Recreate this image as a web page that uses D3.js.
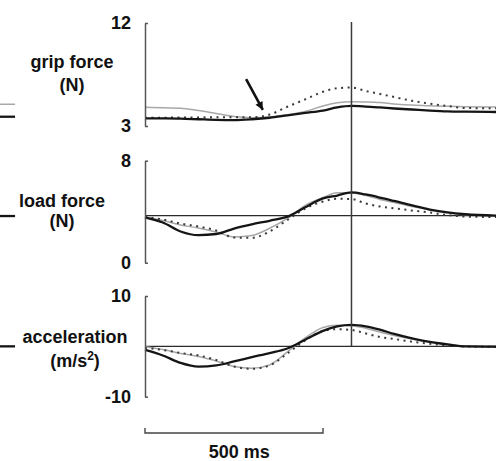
<!DOCTYPE html>
<html>
<head>
<meta charset="utf-8">
<script src="https://cdn.jsdelivr.net/npm/d3@7"></script>
<style>
  html, body { margin: 0; padding: 0; background: #fff; }
  svg { display: block; }
  text { font-family: "Liberation Sans", Arial, sans-serif; font-weight: bold; fill: #111; }
</style>
</head>
<body>
<div id="chart"></div>
<script>
// time samples (ms from start of the trace)
const times = [0, 50, 100, 150, 200, 250, 300, 350, 400, 450, 500, 540, 580, 620, 660, 700, 750, 800, 850, 900, 1000];

// grip force (N)
const gripBlack  = [3.67, 3.66, 3.64, 3.59, 3.54, 3.52, 3.59, 3.72, 3.93, 4.14, 4.35, 4.62, 4.75, 4.70, 4.62, 4.53, 4.44, 4.35, 4.28, 4.25, 4.22];
const gripGray   = [4.63, 4.59, 4.56, 4.35, 4.09, 3.83, 3.73, 3.79, 3.98, 4.27, 4.75, 5.03, 5.12, 5.10, 5.05, 4.92, 4.83, 4.77, 4.72, 4.69, 4.66];
const gripDotted = [3.73, 3.73, 3.74, 3.75, 3.76, 3.76, 3.76, 4.00, 4.68, 5.33, 5.99, 6.30, 6.36, 6.06, 5.80, 5.53, 5.20, 4.95, 4.75, 4.57, 4.55];

// load force (N)
const loadBlack  = [3.56, 3.15, 2.45, 2.16, 2.25, 2.68, 3.01, 3.29, 3.61, 4.35, 5.04, 5.27, 5.52, 5.35, 5.11, 4.84, 4.49, 4.17, 3.94, 3.80, 3.69];
const loadGray   = [3.61, 3.31, 2.96, 2.72, 2.41, 2.02, 2.13, 2.70, 3.48, 4.49, 5.11, 5.48, 5.47, 5.27, 4.96, 4.72, 4.41, 4.15, 3.91, 3.76, 3.66];
const loadDotted = [3.58, 3.39, 3.07, 2.84, 2.53, 1.98, 1.95, 2.45, 3.35, 4.25, 4.80, 5.01, 5.00, 4.64, 4.41, 4.27, 4.09, 3.94, 3.74, 3.62, 3.58];
const loadRef = 3.7;

// acceleration (m/s2)
const accBlack  = [-0.71, -1.81, -3.30, -4.03, -3.79, -3.00, -2.15, -1.33, -0.42, 1.31, 3.06, 3.95, 4.25, 3.95, 3.30, 2.46, 1.57, 0.87, 0.38, -0.02, -0.06];
const accGray   = [-0.06, -0.62, -1.41, -2.01, -2.90, -3.99, -4.35, -3.69, -1.11, 1.67, 3.75, 4.19, 4.11, 3.61, 2.86, 2.16, 1.47, 0.87, 0.32, 0.02, -0.12];
const accDotted = [-0.32, -0.71, -1.31, -1.81, -2.70, -3.99, -4.45, -3.79, -1.41, 1.17, 3.06, 3.40, 3.26, 2.56, 1.87, 1.47, 0.93, 0.52, 0.18, -0.02, -0.12];
const accRef = 0;

// axis end ticks
const gripTicks = [3, 12];
const loadTicks = [0, 8];
const accTicks = [-10, 10];

// event marker time and scale bar
const eventTime = 580;
const scaleBar = [0, 500];

// arrow annotation on the grip panel: [time, value] tail -> tip
const arrowPts = [[284, 7.1], [331, 4.4]];

// cut-off traces of the neighbouring panel on the left edge
const edgeTimes = [-410, -365];
const edgeGripGray = [4.9, 4.9];
const edgeGripBlack = [3.81, 3.81];
const edgeLoadBlack = [3.66, 3.66];
const edgeAccBlack = [0, 0];

const W = 496, H = 461;
const svg = d3.select("#chart").append("svg").attr("width", W).attr("height", H);

const x = d3.scaleLinear().domain([0, 1000]).range([145, 501]);
const yGrip = d3.scaleLinear().domain([3, 12]).range([126, 23]);
const yLoad = d3.scaleLinear().domain([0, 8]).range([262.7, 160.7]);
const yAcc = d3.scaleLinear().domain([-10, 10]).range([396.7, 296]);

const styles = {
  gray:   { stroke: "#a8a8a8", width: 1.5, dash: null },
  dotted: { stroke: "#3a3a3a", width: 2, dash: "2,4.5" },
  black:  { stroke: "#151515", width: 2.3, dash: null }
};

function drawTrace(g, ts, vals, y, style) {
  const line = d3.line().x((d, i) => x(ts[i])).y(d => y(d)).curve(d3.curveMonotoneX);
  g.append("path").datum(vals)
    .attr("d", line)
    .attr("fill", "none")
    .attr("stroke", style.stroke)
    .attr("stroke-width", style.width)
    .attr("stroke-dasharray", style.dash)
    .attr("stroke-linejoin", "round");
}

function drawAxis(y, ticks) {
  const ax = svg.append("g").attr("transform", `translate(${x(0)},0)`)
    .call(d3.axisLeft(y).tickValues(ticks).tickFormat(d => String(d))
      .tickSizeInner(-3).tickSizeOuter(0).tickPadding(14));
  ax.select(".domain").attr("stroke", "#555").attr("stroke-width", 1.5);
  ax.selectAll(".tick line").attr("stroke", "#555").attr("stroke-width", 1.5);
  ax.selectAll(".tick text").attr("font-size", 18).attr("font-family", null).attr("fill", "#111");
  ax.attr("font-family", null);
}

function refLine(y, v) {
  svg.append("line")
    .attr("x1", x(0)).attr("x2", W)
    .attr("y1", y(v)).attr("y2", y(v))
    .attr("stroke", "#2a2a2a").attr("stroke-width", 1.3);
}

// grip panel
const gGrip = svg.append("g");
drawTrace(gGrip, times, gripGray, yGrip, styles.gray);
drawTrace(gGrip, times, gripDotted, yGrip, styles.dotted);
drawTrace(gGrip, times, gripBlack, yGrip, styles.black);
drawAxis(yGrip, gripTicks);

// load panel
refLine(yLoad, loadRef);
const gLoad = svg.append("g");
drawTrace(gLoad, times, loadGray, yLoad, styles.gray);
drawTrace(gLoad, times, loadDotted, yLoad, styles.dotted);
drawTrace(gLoad, times, loadBlack, yLoad, styles.black);
drawAxis(yLoad, loadTicks);

// acceleration panel
refLine(yAcc, accRef);
const gAcc = svg.append("g");
drawTrace(gAcc, times, accGray, yAcc, styles.gray);
drawTrace(gAcc, times, accDotted, yAcc, styles.dotted);
drawTrace(gAcc, times, accBlack, yAcc, styles.black);
drawAxis(yAcc, accTicks);

// edge fragments
drawTrace(svg, edgeTimes, edgeGripGray, yGrip, styles.gray);
drawTrace(svg, edgeTimes, edgeGripBlack, yGrip, styles.black);
drawTrace(svg, edgeTimes, edgeLoadBlack, yLoad, styles.black);
drawTrace(svg, edgeTimes, edgeAccBlack, yAcc, styles.black);

// vertical event line
svg.append("line")
  .attr("x1", x(eventTime)).attr("x2", x(eventTime))
  .attr("y1", yGrip(12) - 1).attr("y2", yAcc(0))
  .attr("stroke", "#3a3a3a").attr("stroke-width", 1.5);

// arrow
svg.append("defs").append("marker")
  .attr("id", "arrowhead").attr("viewBox", "0 -5 10 10")
  .attr("refX", 10).attr("refY", 0)
  .attr("markerUnits", "userSpaceOnUse")
  .attr("markerWidth", 9).attr("markerHeight", 8).attr("orient", "auto")
  .append("path").attr("d", "M0,-5L10,0L0,5Z").attr("fill", "#111");
svg.append("line")
  .attr("x1", x(arrowPts[0][0])).attr("y1", yGrip(arrowPts[0][1]))
  .attr("x2", x(arrowPts[1][0])).attr("y2", yGrip(arrowPts[1][1]))
  .attr("stroke", "#111").attr("stroke-width", 2.6)
  .attr("marker-end", "url(#arrowhead)");

// panel labels
const labels = [
  { lines: ["grip force", "(N)"], cx: 72, base: [68, 91] },
  { lines: ["load force", "(N)"], cx: 62, base: [207, 227] },
  { lines: ["acceleration", "(m/s"], cx: 75, base: [343, 367], sup: true }
];
labels.forEach(l => {
  svg.append("text").attr("x", l.cx).attr("y", l.base[0])
    .attr("text-anchor", "middle").attr("font-size", 18).text(l.lines[0]);
  const t = svg.append("text").attr("x", l.cx).attr("y", l.base[1])
    .attr("text-anchor", "middle").attr("font-size", 18);
  t.append("tspan").text(l.lines[1]);
  if (l.sup) {
    t.append("tspan").attr("dy", -7).attr("font-size", 12).text("2");
    t.append("tspan").attr("dy", 7).text(")");
  }
});

// scale bar
const sbY = 433;
svg.append("path")
  .attr("d", `M${x(scaleBar[0])},${sbY - 5}V${sbY}H${x(scaleBar[1])}V${sbY - 5}`)
  .attr("fill", "none").attr("stroke", "#444").attr("stroke-width", 1.4);
svg.append("text").attr("x", x(265)).attr("y", 458)
  .attr("text-anchor", "middle").attr("font-size", 18).text("500 ms");
</script>
</body>
</html>
